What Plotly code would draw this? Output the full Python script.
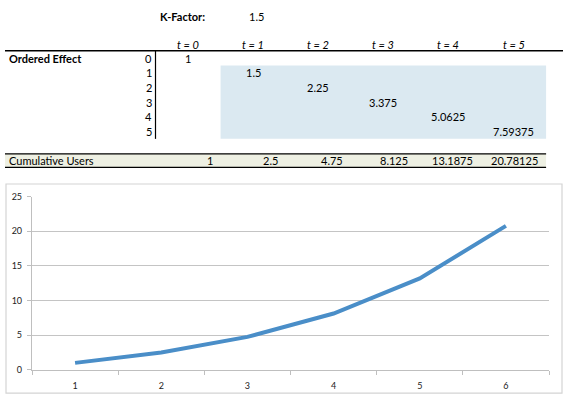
import plotly.graph_objects as go

# spreadsheet values
kFactor        = 1.5
timeLabels     = ["t = 0", "t = 1", "t = 2", "t = 3", "t = 4", "t = 5"]
orderLabels    = [0, 1, 2, 3, 4, 5]
orderedEffect  = [1, 1.5, 2.25, 3.375, 5.0625, 7.59375]
cumulative     = [1, 2.5, 4.75, 8.125, 13.1875, 20.78125]
periods        = [1, 2, 3, 4, 5, 6]

# page size and table grid (pixels)
W, H     = 567, 403
colLeft  = 155.5
colW     = 65.1
rowTop   = 46
rowH     = 15.1
font     = "Lato"
lineBlue = "#4a8ec8"

def px(x):
    return x / W

def py(y):
    return 1 - y / H

def fmt(v):
    return "{:.10g}".format(v)

fig = go.Figure()

fig.add_trace(go.Scatter(
    x=[str(p) for p in periods],
    y=cumulative,
    mode='lines',
    line=dict(color=lineBlue, width=4),
    hoverinfo='x+y',
    showlegend=False))

shapes = []
ann = []

def text(x, y, s, anchor='center', bold=False, italic=False, size=11):
    if bold:
        s = '<b>' + s + '</b>'
    if italic:
        s = '<i>' + s + '</i>'
    ann.append(dict(x=px(x), y=py(y), xref='paper', yref='paper', text=s,
                    showarrow=False, xanchor=anchor, yanchor='middle',
                    font=dict(family=font, size=size, color='black')))

# k-factor cell
text(158, 11, 'K-Factor:', anchor='left', bold=True)
text(256, 11, fmt(kFactor))

# headers
for i, lab in enumerate(timeLabels):
    text(colLeft + colW * (i + 0.5), 40, lab, italic=True)
shapes.append(dict(type='line', xref='paper', yref='paper',
                   x0=px(5), x1=px(563), y0=py(rowTop), y1=py(rowTop),
                   line=dict(color='black', width=1.5)))

# shaded block behind rows 1..5
shapes.append(dict(type='rect', xref='paper', yref='paper', layer='below',
                   x0=px(colLeft + colW), x1=px(colLeft + colW * 6),
                   y0=py(rowTop + rowH), y1=py(rowTop + rowH * 6),
                   fillcolor='#dbe9f1', line=dict(width=0)))
shapes.append(dict(type='line', xref='paper', yref='paper',
                   x0=px(colLeft), x1=px(colLeft),
                   y0=py(rowTop), y1=py(rowTop + rowH * 6),
                   line=dict(color='black', width=1.2)))

text(7, rowTop + rowH * 0.5, 'Ordered Effect', anchor='left', bold=True)
for i, r in enumerate(orderLabels):
    yc = rowTop + rowH * (i + 0.5)
    text(colLeft - 2, yc, str(r), anchor='right')
    text(colLeft + colW * (i + 0.5), yc, fmt(orderedEffect[i]))

# cumulative users row
shapes.append(dict(type='rect', xref='paper', yref='paper', layer='below',
                   x0=px(5), x1=px(colLeft + colW * 6), y0=py(152), y1=py(166),
                   fillcolor='#eef0e3', line=dict(width=0)))
for yy in (152, 166):
    shapes.append(dict(type='line', xref='paper', yref='paper',
                       x0=px(5), x1=px(colLeft + colW * 6), y0=py(yy), y1=py(yy),
                       line=dict(color='black', width=1.2)))
text(7, 159, 'Cumulative Users', anchor='left')
for i, v in enumerate(cumulative):
    text(colLeft + colW * (i + 1) - 6, 159, fmt(v), anchor='right')

# chart frame
shapes.append(dict(type='rect', xref='paper', yref='paper', layer='below',
                   x0=px(6), x1=px(562), y0=py(183), y1=py(398),
                   line=dict(color='#d4d4d4', width=1.2), fillcolor='white'))

fig.update_layout(
    width=W, height=H,
    margin=dict(l=0, r=0, t=0, b=0),
    paper_bgcolor='white', plot_bgcolor='white',
    shapes=shapes, annotations=ann,
    font=dict(family=font, size=9, color='#222'),
    xaxis=dict(domain=[px(32), px(549)], type='category', range=[-0.5, 5.5],
               showgrid=False, zeroline=False, showline=True, linecolor='#bfbfbf',
               linewidth=1.2, ticks='outside', tickson='boundaries', ticklen=4,
               tickcolor='#bfbfbf', tickfont=dict(size=9, family=font),
               ticklabelstandoff=7),
    yaxis=dict(domain=[py(374), py(196)], range=[0, 25], dtick=5,
               showgrid=True, gridcolor='#c4c4c4', gridwidth=1.4, zeroline=False,
               showline=True, linecolor='#bfbfbf', linewidth=1.2, ticks='outside',
               ticklen=4, tickcolor='#bfbfbf', tickfont=dict(size=9, family=font),
               ticklabelstandoff=3),
)

# page body has a default 8px margin; drop it so the figure sits at the corner
fig.write_html("out.html", config={'displayModeBar': False},
               post_script="document.body.style.margin='0';")
